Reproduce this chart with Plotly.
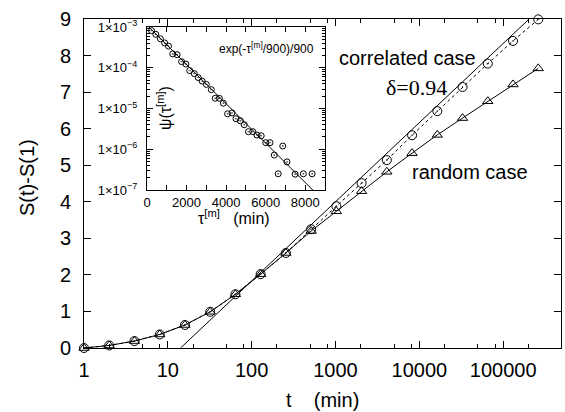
import numpy as np
import plotly.graph_objects as go

# ---------------- main chart data ----------------
t_vals = [1, 2, 4, 8, 16, 32, 64, 128, 256, 512, 1024, 2048, 4096, 8192,
          16384, 32768, 65536, 131072, 262144]
correlated = [0, 0.07, 0.19, 0.37, 0.63, 0.99, 1.47, 2.02, 2.6, 3.25, 3.88,
              4.51, 5.14, 5.82, 6.48, 7.14, 7.78, 8.4, 8.99]
random_case = [0, 0.07, 0.19, 0.37, 0.63, 0.99, 1.47, 2.02, 2.6, 3.2, 3.74,
               4.29, 4.82, 5.33, 5.83, 6.29, 6.75, 7.21, 7.65]
fit_t = [14.2, 204000]
fit_s = [0, 9]

x_ticks = [1, 10, 100, 1000, 10000, 100000]
x_ticktext = ["1", "10", "100", "1000", "10000", "100000"]
y_ticks = [0, 1, 2, 3, 4, 5, 6, 7, 8, 9]

# ---------------- inset data ----------------
tau = [0, 230, 445, 675, 890, 1090, 1300, 1520, 1750, 1965, 2160, 2390, 2590,
       2790, 3000, 3250, 3450, 3660, 3860, 4075, 4300, 4500, 4720, 4915, 5130,
       5350, 5560, 5775, 6005, 6220, 6435, 6635, 6865, 7080, 7490, 7905, 8350]
psi = [1.0e-3, 8.13e-4, 6.61e-4, 5.13e-4, 4.07e-4, 3.39e-4, 2.19e-4, 2.09e-4,
       1.41e-4, 1.23e-4, 8.5e-5, 7.2e-5, 5.75e-5, 4.7e-5, 3.9e-5, 2.9e-5,
       1.78e-5, 1.78e-5, 1.35e-5, 7.4e-6, 7.8e-6, 5.6e-6, 5.0e-6, 4.0e-6,
       2.7e-6, 2.7e-6, 2.24e-6, 2.14e-6, 1.45e-6, 1.45e-6, 7.2e-7, 2.5e-7,
       1.2e-6, 4.9e-7, 2.45e-7, 2.5e-7, 2.5e-7]
inset_fit_tau = [0, 9000]
inset_fit_psi = [float(np.exp(-v / 900.0) / 900.0) for v in inset_fit_tau]

inset_y_ticks = [1e-7, 1e-6, 1e-5, 1e-4, 1e-3]
inset_y_ticktext = ["1×10<sup>−7</sup>", "1×10<sup>−6</sup>", "1×10<sup>−5</sup>",
                    "1×10<sup>−4</sup>", "1×10<sup>−3</sup>"]
inset_x_ticks = [0, 1000, 2000, 3000, 4000, 5000, 6000, 7000, 8000, 9000]
inset_x_ticktext = ["0", "", "2000", "", "4000", "", "6000", "", "8000", ""]

FONT = "Liberation Sans, Arial, sans-serif"
SERIF = "Liberation Serif, Times New Roman, serif"

fig = go.Figure()

# main: random case (triangles, solid line)
fig.add_trace(go.Scatter(
    x=t_vals, y=random_case, mode="lines+markers",
    line=dict(color="black", width=1),
    marker=dict(symbol="triangle-up-open", size=9, color="black", line=dict(width=1)),
    cliponaxis=False, showlegend=False))
# main: correlated case (circles, dotted line)
fig.add_trace(go.Scatter(
    x=t_vals, y=correlated, mode="lines+markers",
    line=dict(color="black", width=1, dash="dot"),
    marker=dict(symbol="circle-open-dot", size=9, color="black", line=dict(width=1)),
    cliponaxis=False, showlegend=False))
# main: fit line
fig.add_trace(go.Scatter(
    x=fit_t, y=fit_s, mode="lines",
    line=dict(color="black", width=1), showlegend=False))

# inset
fig.add_trace(go.Scatter(
    x=inset_fit_tau, y=inset_fit_psi, mode="lines",
    line=dict(color="black", width=1), xaxis="x2", yaxis="y2", showlegend=False))
fig.add_trace(go.Scatter(
    x=tau, y=psi, mode="markers",
    marker=dict(symbol="circle-open-dot", size=6, color="black", line=dict(width=1)),
    xaxis="x2", yaxis="y2", cliponaxis=False, showlegend=False))

axis_common = dict(showline=True, linecolor="black", linewidth=1, mirror="ticks",
                   showgrid=False, zeroline=False, ticks="inside", tickcolor="black",
                   tickwidth=1, automargin=False)

fig.update_layout(
    width=565, height=412,
    margin=dict(l=84, r=4, t=19, b=64, autoexpand=False),
    paper_bgcolor="white", plot_bgcolor="white",
    font=dict(family=FONT, color="black", size=20),
    hovermode=False,
    xaxis=dict(type="log", range=[0, 5.69], tickvals=x_ticks, ticktext=x_ticktext,
               ticklen=7, ticklabelstandoff=4,
               tickfont=dict(size=20, family=FONT),
               minor=dict(ticks="inside", ticklen=4, tickcolor="black",
                          tickvals=[2, 5, 8, 20, 50, 80, 200, 500, 800, 2000, 5000, 8000,
                                    20000, 50000, 80000, 200000]),
               **axis_common),
    yaxis=dict(range=[0, 9], tickvals=y_ticks, ticklen=7, ticklabelstandoff=8,
               tickfont=dict(size=20, family=FONT), **axis_common),
    xaxis2=dict(domain=[0.1321, 0.5052], anchor="y2", range=[0, 9000],
                tickvals=inset_x_ticks, ticktext=inset_x_ticktext, ticklen=5,
                ticklabelstandoff=0, tickfont=dict(size=13, family=FONT),
                **axis_common),
    yaxis2=dict(domain=[0.4802, 0.9757], anchor="x2", type="log", range=[-7, -3],
                tickvals=inset_y_ticks, ticktext=inset_y_ticktext, ticklen=6,
                ticklabelstandoff=6, tickfont=dict(size=13, family=FONT),
                minor=dict(ticks="inside", ticklen=3, tickcolor="black", dtick="D1"),
                **axis_common),
)

ann = [
    dict(x=0.6792, y=0.8815, text="correlated case", font=dict(size=20, family=FONT)),
    dict(x=0.6981, y=0.7933, text="δ=0.94", font=dict(size=22, family=SERIF)),
    dict(x=0.8092, y=0.535, text="random case", font=dict(size=20, family=FONT)),
    dict(x=0.5, y=-0.158, text="t\u00a0\u00a0\u00a0\u00a0(min)", font=dict(size=20, family=FONT)),
    dict(x=-0.1195, y=0.5198, text="S(t)-S(1)", textangle=-90, font=dict(size=20, family=FONT)),
    dict(x=0.3836, y=0.9119, text="exp(-τ<sup>[m]</sup>/900)/900", font=dict(size=12, family=FONT)),
    dict(x=0.3155, y=0.3990, text="τ<sup>[m]</sup>\u00a0\u00a0\u00a0(min)", font=dict(size=16, family=FONT)),
    dict(x=0.1677, y=0.7295, text="ψ(τ<sup>[m]</sup>)", textangle=-90, font=dict(size=16, family=FONT)),
]
for a in ann:
    fig.add_annotation(xref="paper", yref="paper", showarrow=False,
                       xanchor="center", yanchor="middle", **a)

fig.write_html(
    "out.html",
    config={"displayModeBar": False, "staticPlot": True},
    post_script="document.body.style.margin='0';document.body.style.padding='0';"
                "document.body.style.overflow='hidden';",
)
